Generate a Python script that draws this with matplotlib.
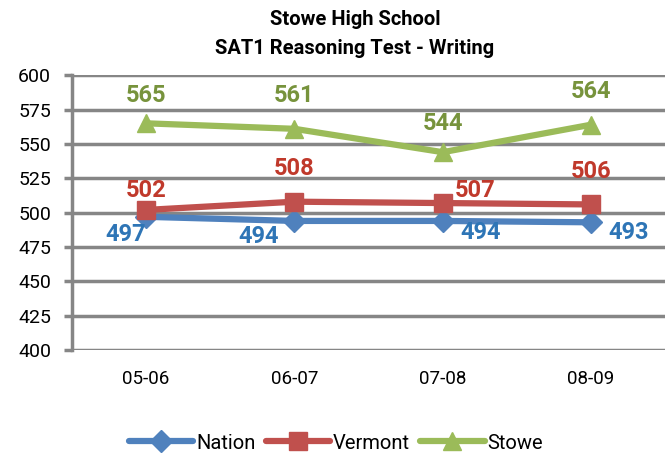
import matplotlib
matplotlib.use("Agg")
import matplotlib.pyplot as plt

plt.rcParams['font.family'] = ['Roboto', 'DejaVu Sans']

# Data
years = ["05-06", "06-07", "07-08", "08-09"]
nation = [497, 494, 494, 493]
vermont = [502, 508, 507, 506]
stowe = [565, 561, 544, 564]

# label offsets in points (dx, dy)
nation_off = [(-15, -13), (-26, -11), (27, -8), (27, -7)]
vermont_off = [(0, 14), (0, 24), (23, 9), (0, 24)]
stowe_off = [(0, 20), (0, 24), (0, 21), (0, 24)]

fig = plt.figure(figsize=(6.72, 4.53), dpi=100)
ax = fig.add_axes([0.107, 0.227, 0.883, 0.607])

x = list(range(len(years)))
series = [
    ("Nation", nation, "#4F81BD", "#2E75B6", "D", 11, nation_off),
    ("Vermont", vermont, "#C0504D", "#C0392B", "s", 13, vermont_off),
    ("Stowe", stowe, "#9BBB59", "#77933C", "^", 13, stowe_off),
]
for name, vals, col, lcol, mk, ms, offs in series:
    ax.plot(x, vals, color=col, lw=4.5, marker=mk, markersize=ms,
            label=name, solid_capstyle='round', zorder=3)
    for xi, v, (dx, dy) in zip(x, vals, offs):
        ax.annotate(str(v), (xi, v), xytext=(dx, dy), textcoords='offset points',
                    ha='center', va='center', fontsize=17, fontweight='bold',
                    color=lcol, zorder=4)

ax.set_xlim(-0.5, 3.5)
ax.set_ylim(400, 600)
ax.set_yticks(range(400, 601, 25))
ax.set_xticks(x)
ax.set_xticklabels(years)
ax.grid(axis='y', color='#868686', lw=2.5)
ax.set_axisbelow(True)
for s in ['top', 'right', 'bottom']:
    ax.spines[s].set_visible(False)
ax.spines['left'].set_color('#868686')
ax.spines['left'].set_linewidth(2.5)
ax.tick_params(axis='y', length=6, width=2.5, color='#868686', labelsize=14, pad=9)
ax.tick_params(axis='x', length=0, labelsize=13.5, pad=14)

fig.text(0.528, 0.956, "Stowe High School", ha='center', va='center',
         fontsize=14.5, fontweight='bold')
fig.text(0.528, 0.894, "SAT1 Reasoning Test - Writing", ha='center', va='center',
         fontsize=14.5, fontweight='bold')

fig.legend(loc='center', bbox_to_anchor=(0.5, 0.022), ncol=3, frameon=False,
           fontsize=14.5, handlelength=3.2, handletextpad=0.15, columnspacing=0.5)

fig.savefig("out.png", dpi=100)
